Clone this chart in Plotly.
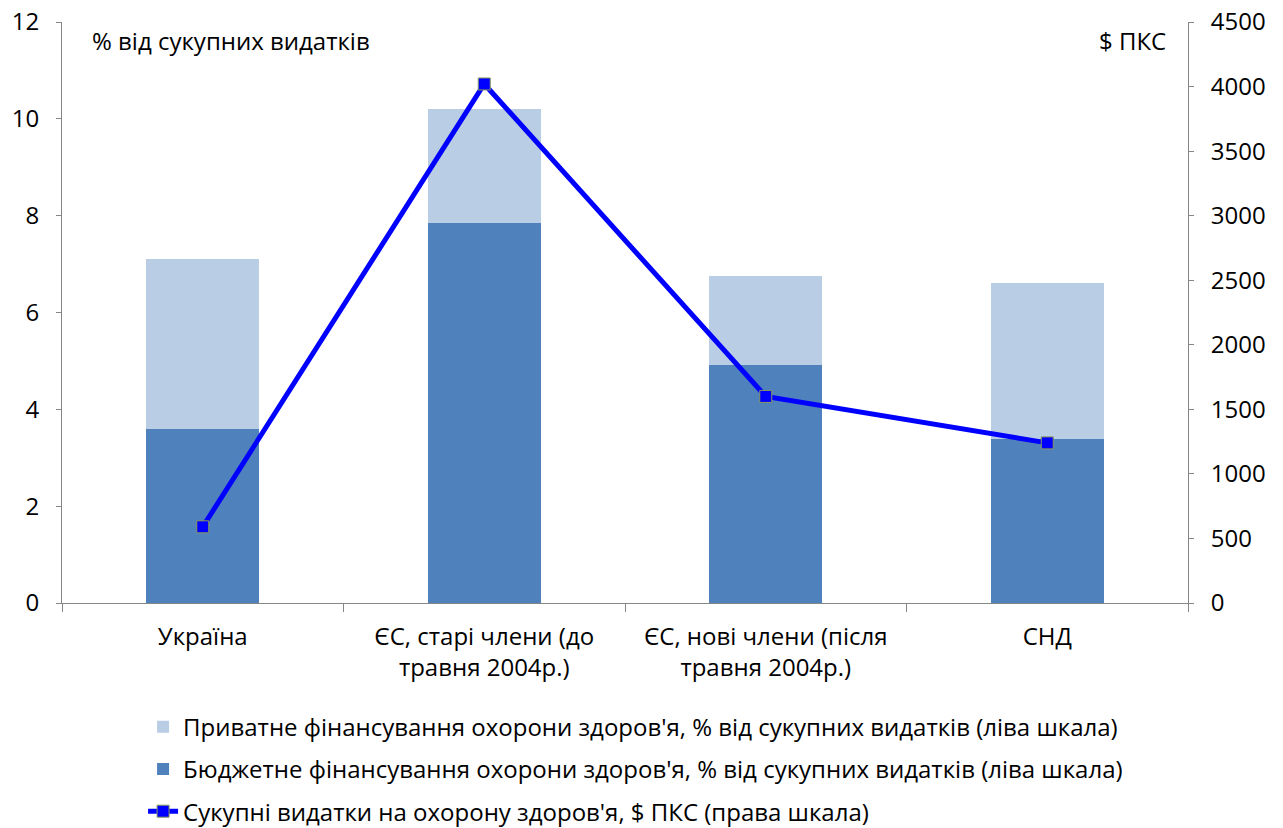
import plotly.graph_objects as go

categories = ["Україна", "ЄС, старі члени (до<br>травня 2004р.)", "ЄС, нові члени (після<br>травня 2004р.)", "СНД"]
budget = [3.6, 7.85, 4.92, 3.38]
private = [3.5, 2.35, 1.83, 3.22]
total_usd = [590, 4020, 1600, 1240]

font = "Open Sans, Noto Sans, sans-serif"
axis_col = "#868686"

fig = go.Figure()
fig.add_trace(go.Bar(x=categories, y=budget, name="Бюджетне фінансування охорони здоров'я, % від сукупних видатків (ліва шкала)",
                     marker=dict(color="#4F81BD", line=dict(width=0)), legendrank=2, legendgroup="b"))
fig.add_trace(go.Bar(x=categories, y=private, name="Приватне фінансування охорони здоров'я, % від сукупних видатків (ліва шкала)",
                     marker=dict(color="#B9CDE5", line=dict(width=0)), legendrank=1, legendgroup="p"))
fig.add_trace(go.Scatter(x=categories, y=total_usd, yaxis="y2", mode="lines+markers",
                         name="Сукупні видатки на охорону здоров'я, $ ПКС (права шкала)",
                         line=dict(color="#0000FF", width=5),
                         marker=dict(symbol="square", size=12, color="#0000FF", line=dict(color="#8A9A5B", width=1)),
                         legendrank=3, legendgroup="t"))

fig.update_layout(
    width=1283, height=828,
    barmode="stack", bargap=0.6,
    plot_bgcolor="white", paper_bgcolor="white",
    margin=dict(l=62, r=95, t=22, b=225, autoexpand=False),
    font=dict(family=font, size=22, color="black"),
    xaxis=dict(showline=True, linecolor=axis_col, linewidth=1, ticks="outside", tickson="boundaries",
               ticklen=8, tickcolor=axis_col, tickfont=dict(size=24), showgrid=False, tickangle=0,
               ticklabelstandoff=12),
    yaxis=dict(range=[0, 12], dtick=2, showline=True, linecolor=axis_col, ticks="outside", ticklen=5,
               tickcolor=axis_col, showgrid=False, zeroline=False, tickfont=dict(size=24), ticklabelstandoff=12),
    yaxis2=dict(range=[0, 4500], dtick=500, overlaying="y", side="right", showline=True, linecolor=axis_col,
                ticks="outside", ticklen=5, tickcolor=axis_col, showgrid=False, zeroline=False,
                tickfont=dict(size=24), ticklabelstandoff=12),
    legend=dict(x=0.072, y=-0.175, xanchor="left", yanchor="top", traceorder="grouped",
                font=dict(size=24), tracegroupgap=8, itemwidth=30, bgcolor="rgba(0,0,0,0)"),
    annotations=[
        dict(text="% від сукупних видатків", xref="paper", yref="paper", x=0.025, y=0.969, xanchor="left",
             yanchor="middle", showarrow=False, font=dict(size=24)),
        dict(text="$ ПКС", xref="paper", yref="paper", x=0.982, y=0.969, xanchor="right",
             yanchor="middle", showarrow=False, font=dict(size=24)),
    ],
)
fig.write_html("out.html")
